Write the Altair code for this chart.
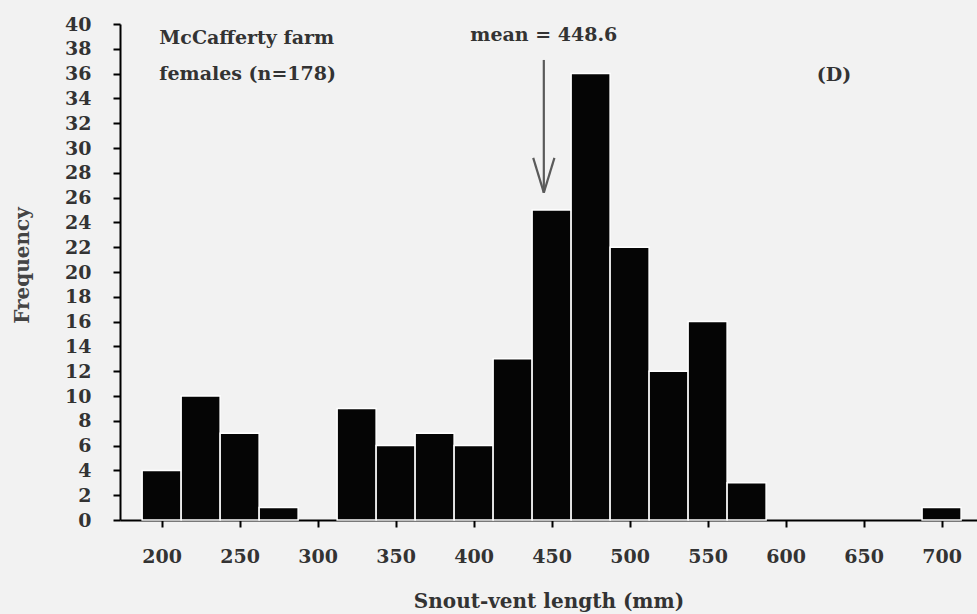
import altair as alt
import pandas as pd

# Histogram data (bin centres in mm, counts)
centres = [200, 225, 250, 275, 300, 325, 350, 375, 400, 425, 450, 475, 500, 525, 550, 575, 600, 625, 650, 675, 700]
counts = [4, 10, 7, 1, 0, 9, 6, 7, 6, 13, 25, 36, 22, 12, 16, 3, 0, 0, 0, 0, 1]
bin_width = 25

x_ticks = [200, 250, 300, 350, 400, 450, 500, 550, 600, 650, 700]
y_ticks = list(range(0, 41, 2))

# annotations
texts = ["McCafferty farm", "females (n=178)", "(D)"]
text_x = [198.5, 198.5, 631]
text_y = [38.9, 36.0, 35.9]
mean_label = "mean = 448.6"
mean_x = 445.0
mean_label_y = 39.1
arrow_top = 37.1
arrow_tip = 26.4
head_dx = 6.8
head_y = 29.2

FONT = "DejaVu Serif"
GRAY = "#333333"

df = pd.DataFrame({
    "start": [c - bin_width / 2 for c in centres],
    "end": [c + bin_width / 2 for c in centres],
    "count": counts,
})
df = df[df["count"] > 0]

x_scale = alt.Scale(domain=[173.3, 722.7], nice=False, zero=False)
y_scale = alt.Scale(domain=[0, 40], nice=False)

x_axis = alt.Axis(values=x_ticks, title="Snout-vent length (mm)", grid=False,
                  domainColor="black", domainWidth=2, tickColor="black", tickWidth=2,
                  tickSize=7, labelPadding=20, labelFont=FONT, labelFontSize=19,
                  labelFontWeight="bold", labelColor=GRAY, labelBaseline="top",
                  labelOverlap=False,
                  titleFont=FONT, titleFontSize=20, titleFontWeight="bold",
                  titleColor=GRAY, titleY=81, titleBaseline="middle")
y_axis = alt.Axis(values=y_ticks, title="Frequency", grid=False,
                  domainColor="black", domainWidth=2, tickColor="black", tickWidth=2,
                  tickSize=7, labelPadding=22, labelFont=FONT, labelFontSize=19,
                  labelFontWeight="bold", labelColor=GRAY, labelOverlap=False,
                  titleFont=FONT, titleFontSize=20, titleFontWeight="bold",
                  titleColor="#444444", titleX=-98, titleY=241, titleAngle=-90,
                  titleAlign="center", titleBaseline="middle")


def X(field):
    return alt.X(field, scale=x_scale, axis=x_axis, title="Snout-vent length (mm)")


def Y(field):
    return alt.Y(field, scale=y_scale, axis=y_axis, title="Frequency")


bars = alt.Chart(df).mark_bar(color="#050505", stroke="white", strokeWidth=1.5).encode(
    x=X("start:Q"),
    x2="end:Q",
    y=Y("count:Q"),
    y2=alt.datum(0),
)

tdf = pd.DataFrame({"t": texts, "x": text_x, "y": text_y})
labels = alt.Chart(tdf.iloc[:2]).mark_text(
    align="left", baseline="middle", font=FONT, fontSize=19, fontWeight="bold", color=GRAY
).encode(x=X("x:Q"), y=Y("y:Q"), text="t:N")
dlabel = alt.Chart(tdf.iloc[2:]).mark_text(
    align="center", baseline="middle", font=FONT, fontSize=19, fontWeight="bold", color=GRAY
).encode(x=X("x:Q"), y=Y("y:Q"), text="t:N")

mdf = pd.DataFrame({"t": [mean_label], "x": [mean_x], "y": [mean_label_y]})
mlabel = alt.Chart(mdf).mark_text(
    align="center", baseline="middle", font=FONT, fontSize=19, fontWeight="bold", color=GRAY
).encode(x=X("x:Q"), y=Y("y:Q"), text="t:N")

adf = pd.DataFrame({
    "x": [mean_x, mean_x - head_dx, mean_x + head_dx],
    "x2": [mean_x, mean_x, mean_x],
    "y": [arrow_top, head_y, head_y],
    "y2": [arrow_tip, arrow_tip, arrow_tip],
})
arrow = alt.Chart(adf).mark_rule(color="#5a5a5a", strokeWidth=2.2).encode(
    x=X("x:Q"), x2="x2:Q",
    y=Y("y:Q"), y2="y2:Q",
)

chart = alt.layer(bars, arrow, labels, dlabel, mlabel).properties(
    width=857, height=496,
    autosize=alt.AutoSizeParams(type="none"),
    padding={"left": 120, "top": 24, "right": 0, "bottom": 94},
    background="#f2f2f2",
).configure_view(stroke=None)

chart.save("out.html", embed_options={"renderer": "svg", "actions": False})
